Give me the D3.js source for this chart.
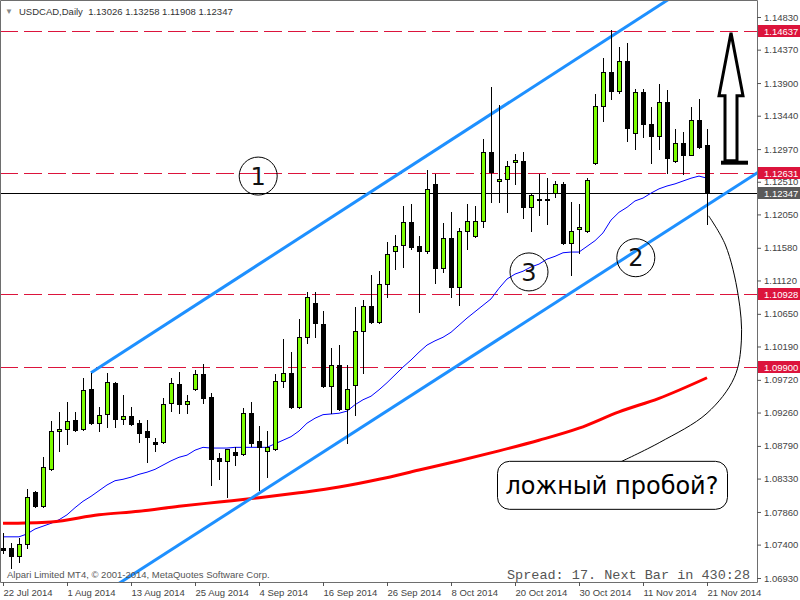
<!doctype html>
<html lang="en">
<head>
<meta charset="utf-8">
<title>USDCAD,Daily</title>
<script src="https://d3js.org/d3.v7.min.js"></script>
<style>
  body { margin: 0; background: #fff; }
  svg { display: block; background: #fff; }
</style>
</head>
<body>
<svg id="chart" width="800" height="600"></svg>
<script>
// ---- data ----
var symbol = "USDCAD,Daily";
var tickDates = ["22 Jul 2014", "1 Aug 2014", "13 Aug 2014", "25 Aug 2014", "4 Sep 2014", "16 Sep 2014",
  "26 Sep 2014", "8 Oct 2014", "20 Oct 2014", "30 Oct 2014", "11 Nov 2014", "21 Nov 2014"];
var tickBars = [0, 8, 16, 24, 32, 40, 48, 56, 64, 72, 80, 88];
var priceTicks = [1.14830, 1.14370, 1.13900, 1.13440, 1.12970, 1.12510, 1.12050, 1.11580, 1.11120,
  1.10650, 1.10190, 1.09720, 1.09260, 1.08790, 1.08330, 1.07860, 1.07400, 1.06930];

// daily candles, 22 Jul 2014 .. 21 Nov 2014
var open = [1.0735, 1.0735, 1.0724, 1.0741, 1.0814, 1.0794, 1.0846, 1.0900, 1.0903, 1.0915,
  1.0903, 1.0959, 1.0911, 1.0924, 1.0968, 1.0917, 1.0921, 1.0911, 1.0900, 1.0885,
  1.0885, 1.0939, 1.0966, 1.0938, 1.0959, 1.0980, 1.0948, 1.0862, 1.0858, 1.0870,
  1.0868, 1.0925, 1.0886, 1.0872, 1.0875, 1.0970, 1.0982, 1.0934, 1.1032, 1.1080,
  1.1051, 1.0963, 1.0993, 1.0931, 1.0965, 1.1041, 1.1076, 1.1053, 1.1107, 1.1153,
  1.1162, 1.1194, 1.1160, 1.1153, 1.1248, 1.1129, 1.1172, 1.1103, 1.1182, 1.1175,
  1.1196, 1.1293, 1.1252, 1.1255, 1.1279, 1.1280, 1.1215, 1.1227, 1.1227, 1.1235,
  1.1248, 1.1165, 1.1184, 1.1182, 1.1277, 1.1358, 1.1405, 1.1379, 1.1421, 1.1320,
  1.1377, 1.1332, 1.1315, 1.1363, 1.1280, 1.1305, 1.1289, 1.1338, 1.13026];
var high = [1.0756, 1.0742, 1.0749, 1.0818, 1.0815, 1.0863, 1.0914, 1.0927, 1.0941, 1.0927,
  1.0975, 1.0982, 1.0934, 1.0982, 1.0969, 1.0951, 1.0934, 1.0915, 1.0915, 1.0890,
  1.0946, 1.0975, 1.0983, 1.0951, 1.0986, 1.0994, 1.0953, 1.0869, 1.0875, 1.0877,
  1.0932, 1.0941, 1.0907, 1.0900, 1.0980, 1.1030, 1.1011, 1.1058, 1.1096, 1.1096,
  1.1069, 1.1017, 1.1021, 1.0993, 1.1075, 1.1084, 1.1120, 1.1125, 1.1166, 1.1176,
  1.1217, 1.1220, 1.1175, 1.1267, 1.1262, 1.1193, 1.1208, 1.1186, 1.1220, 1.1217,
  1.1311, 1.1384, 1.1359, 1.1280, 1.1290, 1.1293, 1.1234, 1.1262, 1.1256, 1.1252,
  1.1251, 1.1222, 1.1220, 1.1256, 1.1374, 1.1425, 1.1464, 1.1441, 1.1446, 1.1382,
  1.1382, 1.1356, 1.1389, 1.1380, 1.1325, 1.1321, 1.1356, 1.1367, 1.13258];
var low = [1.0728, 1.0707, 1.0716, 1.0735, 1.0793, 1.0793, 1.0845, 1.0872, 1.0882, 1.0900,
  1.0902, 1.0910, 1.0900, 1.0906, 1.0906, 1.0910, 1.0908, 1.0885, 1.0856, 1.0872,
  1.0883, 1.0928, 1.0925, 1.0925, 1.0958, 1.0939, 1.0824, 1.0832, 1.0807, 1.0852,
  1.0866, 1.0879, 1.0817, 1.0835, 1.0873, 1.0962, 1.0932, 1.0932, 1.1024, 1.1032,
  1.0962, 1.0925, 1.0930, 1.0883, 1.0923, 1.0982, 1.1052, 1.1052, 1.1089, 1.1128,
  1.1131, 1.1156, 1.1068, 1.1151, 1.1108, 1.1124, 1.1089, 1.1077, 1.1156, 1.1173,
  1.1187, 1.1222, 1.1222, 1.1208, 1.1248, 1.1200, 1.1182, 1.1204, 1.1191, 1.1229,
  1.1163, 1.1120, 1.1151, 1.1180, 1.1276, 1.1336, 1.1367, 1.1376, 1.1308, 1.1297,
  1.1314, 1.1277, 1.1297, 1.1263, 1.1279, 1.1262, 1.1288, 1.1299, 1.11908];
var close = [1.0732, 1.0724, 1.0741, 1.0807, 1.0794, 1.0849, 1.0900, 1.0903, 1.0914, 1.0901,
  1.0958, 1.0911, 1.0923, 1.0969, 1.0917, 1.0921, 1.0910, 1.0897, 1.0892, 1.0882,
  1.0938, 1.0968, 1.0938, 1.0942, 1.0980, 1.0946, 1.0861, 1.0858, 1.0875, 1.0866,
  1.0925, 1.0883, 1.0877, 1.0877, 1.0970, 1.0982, 1.0934, 1.1032, 1.1089, 1.1052,
  1.0963, 1.0993, 1.0931, 1.0959, 1.1041, 1.1076, 1.1053, 1.1107, 1.1149, 1.1160,
  1.1194, 1.1159, 1.1153, 1.1241, 1.1129, 1.1172, 1.1103, 1.1182, 1.1196, 1.1196,
  1.1293, 1.1265, 1.1255, 1.1273, 1.1281, 1.1215, 1.1232, 1.1226, 1.1226, 1.1248,
  1.1165, 1.1182, 1.1187, 1.1253, 1.1358, 1.1405, 1.1379, 1.1421, 1.1327, 1.1377,
  1.1332, 1.1315, 1.1363, 1.1284, 1.1305, 1.1289, 1.1338, 1.1300, 1.12347];

// thin blue moving average, one value per bar
var maFast = [1.0751, 1.0751, 1.0751, 1.0755, 1.0762, 1.0766, 1.0770, 1.0775, 1.0782, 1.0792,
  1.0801, 1.0808, 1.0816, 1.0824, 1.0830, 1.0832, 1.0835, 1.0839, 1.0842, 1.0846,
  1.0852, 1.0858, 1.0863, 1.0866, 1.0873, 1.0877, 1.0876, 1.0876, 1.0876, 1.0877,
  1.0877, 1.0877, 1.0877, 1.0877, 1.0882, 1.0887, 1.0892, 1.0900, 1.0911, 1.0918,
  1.0923, 1.0924, 1.0925, 1.0928, 1.0937, 1.0944, 1.0949, 1.0958, 1.0968, 1.0979,
  1.0990, 1.1000, 1.1011, 1.1021, 1.1027, 1.1032, 1.1039, 1.1049, 1.1059, 1.1068,
  1.1077, 1.1086, 1.1101, 1.1114, 1.1121, 1.1125, 1.1131, 1.1135, 1.1142, 1.1146,
  1.1151, 1.1152, 1.1152, 1.1160, 1.1168, 1.1179, 1.1197, 1.1208, 1.1215, 1.1224,
  1.1228, 1.1235, 1.1241, 1.1245, 1.1248, 1.1252, 1.1256, 1.1259, 1.1256];

// thick red moving average, read at every few bars
var maSlowBars = [0, 6, 12, 17, 22, 27, 32, 37, 42, 47, 52, 57, 62, 67, 72, 77, 82, 88];
var maSlow = [1.0770, 1.0772, 1.0782, 1.0787, 1.0794, 1.0800, 1.0806, 1.0813, 1.0821, 1.0832,
  1.0845, 1.0858, 1.0872, 1.0887, 1.0904, 1.0927, 1.0946, 1.0975];

var levels = [1.14637, 1.12631, 1.10928, 1.09900];
var lastPrice = 1.12347;

// channel lines: two anchors each (bar, price)
var channelTop = [[11, 1.0982], [71, 1.1419]];
var channelBottom = [[35, 1.0834], [88, 1.1218]];

// marks drawn on the chart by hand
var circleLabels = ["1", "2", "3"];
var circleBars = [31.9, 79.1, 65.75];
var circlePrices = [1.1259, 1.1144, 1.1124];
var noteText = "ложный пробой?";
var notePathBars = [88.2, 90.3, 91.9, 92.3, 91.4, 88, 82.1, 77.1];
var notePathPrices = [1.1203, 1.1162, 1.1091, 1.1028, 1.0975, 1.0925, 1.0884, 1.0856];

// ---- layout ----
var plotRight = 757, plotBottom = 582;
var svg = d3.select("#chart");

var x = d3.scaleLinear().domain([0, 88]).range([3, 707]);
var y = d3.scaleLinear().domain([1.0693, 1.1483]).range([578, 17]);

var uiFont = '"Liberation Sans", Arial, sans-serif';
var green = "#7cfc00";

svg.append("clipPath").attr("id", "plot-clip")
  .append("rect").attr("x", 0).attr("y", 0).attr("width", plotRight).attr("height", plotBottom);

var plot = svg.append("g").attr("clip-path", "url(#plot-clip)");

// frame
svg.append("path")
  .attr("d", "M0.5,0.5H" + (plotRight + 0.5) + "V" + (plotBottom + 0.5) + "H0.5Z")
  .attr("fill", "none").attr("stroke", "#6e6e6e");

// horizontal levels
plot.selectAll(".level")
  .data(levels)
  .enter().append("line")
  .attr("class", "level")
  .attr("x1", 0).attr("x2", plotRight)
  .attr("y1", function(d) { return Math.round(y(d)) + 0.5; })
  .attr("y2", function(d) { return Math.round(y(d)) + 0.5; })
  .attr("stroke", "#dc143c")
  .attr("stroke-dasharray", "18,6");

plot.append("line")
  .attr("x1", 0).attr("x2", plotRight)
  .attr("y1", Math.round(y(lastPrice)) + 0.5).attr("y2", Math.round(y(lastPrice)) + 0.5)
  .attr("stroke", "#000");

// moving averages
var lineFast = d3.line()
  .x(function(d, i) { return x(i); })
  .y(function(d) { return y(d); });
plot.append("path")
  .attr("d", lineFast(maFast))
  .attr("fill", "none").attr("stroke", "#0000ff").attr("stroke-width", 1);

var lineSlow = d3.line()
  .x(function(d, i) { return x(maSlowBars[i]); })
  .y(function(d) { return y(d); })
  .curve(d3.curveMonotoneX);
plot.append("path")
  .attr("d", lineSlow(maSlow))
  .attr("fill", "none").attr("stroke", "#ff0000").attr("stroke-width", 3);

// channel
function channelLine(p, fromBar, toBar) {
  var slope = (p[1][1] - p[0][1]) / (p[1][0] - p[0][0]);
  return [[x(fromBar), y(p[0][1] + slope * (fromBar - p[0][0]))],
          [x(toBar), y(p[0][1] + slope * (toBar - p[0][0]))]];
}
var topSeg = channelLine(channelTop, 11, 100);
var botSeg = channelLine(channelBottom, 5, 100);
[topSeg, botSeg].forEach(function(s) {
  plot.append("line")
    .attr("x1", s[0][0]).attr("y1", s[0][1])
    .attr("x2", s[1][0]).attr("y2", s[1][1])
    .attr("stroke", "#1e90ff").attr("stroke-width", 3);
});

// candles
var bars = d3.range(open.length);
var candles = plot.selectAll(".candle")
  .data(bars)
  .enter().append("g")
  .attr("class", "candle");

candles.append("line")
  .attr("x1", function(i) { return Math.round(x(i)) + 0.5; })
  .attr("x2", function(i) { return Math.round(x(i)) + 0.5; })
  .attr("y1", function(i) { return Math.round(y(high[i])); })
  .attr("y2", function(i) { return Math.round(y(low[i])) + 1; })
  .attr("stroke", "#000");

candles.append("rect")
  .attr("x", function(i) { return Math.round(x(i)) - 1.5; })
  .attr("width", 4)
  .attr("y", function(i) { return Math.round(y(Math.max(open[i], close[i]))) + 0.5; })
  .attr("height", function(i) {
    return Math.max(0, Math.round(y(Math.min(open[i], close[i]))) - Math.round(y(Math.max(open[i], close[i]))));
  })
  .attr("fill", function(i) { return close[i] >= open[i] ? green : "#000"; })
  .attr("stroke", "#000");

// circled numbers
var circ = plot.selectAll(".num")
  .data(circleLabels)
  .enter().append("g")
  .attr("class", "num")
  .attr("transform", function(d, i) { return "translate(" + x(circleBars[i]) + "," + y(circlePrices[i]) + ")"; });
circ.append("circle").attr("r", 19).attr("fill", "none").attr("stroke", "#000");
circ.append("text")
  .attr("text-anchor", "middle").attr("dy", "0.36em")
  .attr("font-family", '"DejaVu Sans", sans-serif').attr("font-size", 24)
  .attr("fill", "#111")
  .text(function(d) { return d; });

// outlined up arrow, tip on the top level
var ax = x(91), ay = y(levels[0]) + 2;
plot.append("path")
  .attr("d", "M" + ax + "," + ay + "L" + (ax + 12) + "," + (ay + 63) + "L" + (ax + 6) + "," + (ay + 63) +
    "L" + (ax + 6) + "," + (ay + 128) + "L" + (ax - 6) + "," + (ay + 128) + "L" + (ax - 6) + "," + (ay + 63) +
    "L" + (ax - 12) + "," + (ay + 63) + "Z")
  .attr("fill", "#fff").attr("stroke", "#000").attr("stroke-width", 3).attr("stroke-linejoin", "miter");
plot.append("line")
  .attr("x1", ax - 10).attr("x2", ax + 17).attr("y1", ay + 130).attr("y2", ay + 130)
  .attr("stroke", "#000").attr("stroke-width", 4);

// annotation curve + note box
var notePts = notePathBars.map(function(b, i) { return [x(b), y(notePathPrices[i])]; });
plot.append("path")
  .attr("d", d3.line().curve(d3.curveCatmullRom)(notePts))
  .attr("fill", "none").attr("stroke", "#000").attr("stroke-width", 1);

var boxX = x(61.75), boxY = y(1.0858);
plot.append("rect")
  .attr("x", boxX + 0.5).attr("y", boxY + 0.5).attr("width", 230).attr("height", 48)
  .attr("rx", 12).attr("fill", "#fff").attr("stroke", "#000");
plot.append("text")
  .attr("x", boxX + 115).attr("y", boxY + 33)
  .attr("text-anchor", "middle")
  .attr("font-family", '"DejaVu Sans", sans-serif').attr("font-size", 24)
  .attr("fill", "#000")
  .text(noteText);

// price axis
var yAxis = d3.axisRight(y).tickValues(priceTicks).tickFormat(d3.format(".5f")).tickSize(4).tickPadding(3);
var gy = svg.append("g").attr("transform", "translate(" + plotRight + ",0)").call(yAxis);
gy.select(".domain").remove();
gy.selectAll("line").attr("stroke", "#555");
gy.selectAll("text").attr("font-family", uiFont).attr("font-size", 9.5).attr("fill", "#444");

// time axis
var xAxis = d3.axisBottom(x).tickValues(tickBars)
  .tickFormat(function(d, i) { return tickDates[i]; }).tickSize(4).tickPadding(3);
var gx = svg.append("g").attr("transform", "translate(0," + plotBottom + ")").call(xAxis);
gx.select(".domain").remove();
gx.selectAll("line").attr("stroke", "#555");
gx.selectAll("text").attr("font-family", uiFont).attr("font-size", 9.5).attr("fill", "#444")
  .attr("text-anchor", "start").attr("dx", 0);

// level tags on the price axis
function tag(price, color) {
  var cy = Math.round(y(price));
  svg.append("rect").attr("x", plotRight + 1).attr("y", cy - 6).attr("width", 43).attr("height", 12).attr("fill", color);
  svg.append("text").attr("x", plotRight + 7).attr("y", cy + 3.5)
    .attr("font-family", uiFont).attr("font-size", 9.5).attr("fill", "#fff")
    .text(d3.format(".5f")(price));
}
levels.forEach(function(l) { tag(l, "#dc143c"); });
tag(lastPrice, "#5a5a5a");

// header and footer texts
svg.append("text").attr("x", 5).attr("y", 14)
  .attr("font-family", uiFont).attr("font-size", 8).attr("fill", "#888").text("▼");
svg.append("text").attr("x", 19).attr("y", 15)
  .attr("font-family", uiFont).attr("font-size", 9.5).attr("fill", "#333")
  .attr("xml:space", "preserve")
  .text(symbol + "  " + [open[88], high[88], low[88], close[88]].map(d3.format(".5f")).join(" "));

svg.append("text").attr("x", 7).attr("y", 578)
  .attr("font-family", uiFont).attr("font-size", 9.5).attr("fill", "#555")
  .text("Alpari Limited MT4, © 2001-2014, MetaQuotes Software Corp.");
svg.append("text").attr("x", 507).attr("y", 579)
  .attr("font-family", '"Liberation Mono", "Courier New", monospace').attr("font-size", 13.5).attr("fill", "#555")
  .attr("xml:space", "preserve")
  .text("Spread: 17. Next Bar in 430:28");
</script>
</body>
</html>
